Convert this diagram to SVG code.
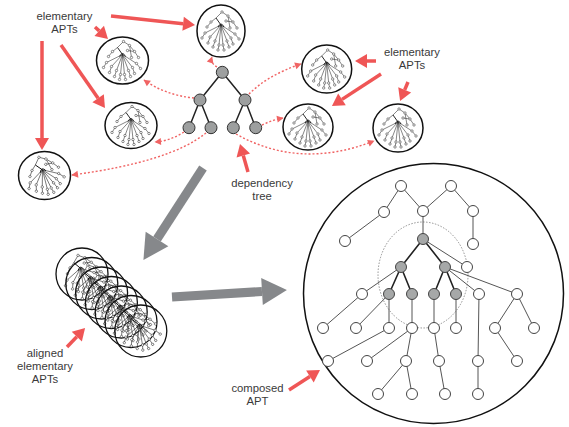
<svg xmlns="http://www.w3.org/2000/svg" xmlns:xlink="http://www.w3.org/1999/xlink" width="569" height="427" viewBox="0 0 569 427">
<style>
.lbl{font-family:"Liberation Sans",Arial,Helvetica,sans-serif;font-size:11.3px;fill:#3a3a3a;text-anchor:middle}
.apt{fill:none;stroke:#111;stroke-width:1.5}
.apt2{fill:none;stroke:#111;stroke-width:1.3}
.ml{stroke:#222;stroke-width:0.55;fill:none}
.mb{stroke:#111;stroke-width:0.9;fill:none}
.mn{fill:#fff;stroke:#222;stroke-width:0.5}
.red{stroke:#ef5656;stroke-width:3.5;fill:none}
.dot{stroke:#f06464;stroke-width:1.4;fill:none;stroke-dasharray:2 2}
.gray{stroke:#86888b;stroke-width:9;fill:none}
.de{stroke:#222;stroke-width:1.5}
.dn{fill:#9d9f9f;stroke:#333;stroke-width:1}
.be{stroke:#555;stroke-width:1}
.bb{stroke:#222;stroke-width:1.6}
.bn{fill:#fff;stroke:#444;stroke-width:1}
.bg{fill:#a6a8a8;stroke:#444;stroke-width:1}
</style>
<defs>
<marker id="rh" markerUnits="userSpaceOnUse" markerWidth="14" markerHeight="16" refX="0" refY="0" viewBox="0 -8 13 16" orient="auto" overflow="visible">
<path d="M0,-7 L12,0 L0,7 z" fill="#ef5656"/>
</marker>
<marker id="dh" markerUnits="userSpaceOnUse" markerWidth="8" markerHeight="8" refX="6" refY="0" viewBox="0 -4 7 8" orient="auto" overflow="visible">
<path d="M0,-3.5 L6.5,0 L0,3.5 z" fill="#f06464"/>
</marker>
<marker id="gh" markerUnits="userSpaceOnUse" markerWidth="26" markerHeight="30" refX="0" refY="0" viewBox="0 -14 25 28" orient="auto" overflow="visible">
<path d="M0,-13 L24,0 L0,13 z" fill="#86888b"/>
</marker>
<g id="mt">
<path class="ml" d="M1,-19 L-5,-13 M1,-19 L7,-15 M7,-15 L12,-9 L16,-3 M7,-15 L9,-3 M-5,-13 L-10,-9 L-14,-4 M0,-6 L-16,2 L-19,7 M0,-6 L-11,6 L-13,12 M0,-6 L-6,10 L-8,16 M0,-6 L-2,14 L-3,19 M0,-6 L2,14 L3,19 M0,-6 L6,10 L8,16 M0,-6 L10,7 L12,13 M0,-6 L14,3 L18,8 M12,-9 L5,-10"/>
<path class="mb" d="M-5,-13 L0,-6 M-3,-4 Q0,-10 3,-4"/>
<g class="mn">
<circle cx="1" cy="-19" r="1.2"/><circle cx="7" cy="-15" r="1.2"/><circle cx="12" cy="-9" r="1.2"/><circle cx="16" cy="-3" r="1.2"/><circle cx="9" cy="-3" r="1.2"/><circle cx="5" cy="-10" r="1.2"/>
<circle cx="-10" cy="-9" r="1.2"/><circle cx="-14" cy="-4" r="1.2"/><circle cx="-16" cy="2" r="1.2"/><circle cx="-19" cy="7" r="1.2"/><circle cx="-11" cy="6" r="1.2"/><circle cx="-13" cy="12" r="1.2"/>
<circle cx="-6" cy="10" r="1.2"/><circle cx="-8" cy="16" r="1.2"/><circle cx="-2" cy="14" r="1.2"/><circle cx="-3" cy="19" r="1.2"/><circle cx="2" cy="14" r="1.2"/><circle cx="3" cy="19" r="1.2"/>
<circle cx="6" cy="10" r="1.2"/><circle cx="8" cy="16" r="1.2"/><circle cx="10" cy="7" r="1.2"/><circle cx="12" cy="13" r="1.2"/><circle cx="14" cy="3" r="1.2"/><circle cx="18" cy="8" r="1.2"/>
</g>
</g>
</defs>
<rect width="569" height="427" fill="#fff"/>

<g id="connectors">
<path class="red" d="M111,16 L183.1,23.7" marker-end="url(#rh)"/>
<path class="red" d="M95,27 L99.2,30.9" marker-end="url(#rh)"/>
<path class="red" d="M61,45 L98.1,98.2" marker-end="url(#rh)"/>
<path class="red" d="M42,41 L42,138" marker-end="url(#rh)"/>
<path class="red" d="M376,61 L367,61" marker-end="url(#rh)"/>
<path class="red" d="M381,74 L342,99.4" marker-end="url(#rh)"/>
<path class="red" d="M408,82 L404.7,89.9" marker-end="url(#rh)"/>
<path class="red" d="M248,172 L243.3,155.5" marker-end="url(#rh)"/>
<path class="red" d="M67,347 L76.8,336.7" marker-end="url(#rh)"/>
<path class="red" d="M289,390 L309.9,376.5" marker-end="url(#rh)"/>
<path class="dot" d="M217,67 Q210,63 212,57" marker-end="url(#dh)"/>
<path class="dot" d="M194,98 Q165,95 144,80" marker-end="url(#dh)"/>
<path class="dot" d="M249,94 Q268,75 301,64" marker-end="url(#dh)"/>
<path class="dot" d="M184,132 Q170,141 155,142" marker-end="url(#dh)"/>
<path class="dot" d="M206,133 Q170,162 72,175" marker-end="url(#dh)"/>
<path class="dot" d="M262,125 Q272,120 283,118" marker-end="url(#dh)"/>
<path class="dot" d="M236,134 Q300,170 374,141" marker-end="url(#dh)"/>
<path class="gray" d="M203,168 L157,239" marker-end="url(#gh)"/>
<path class="gray" d="M172,297 L262,291.5" marker-end="url(#gh)"/>
</g>

<g id="elementary-apts-1"><ellipse class="apt" cx="221" cy="31" rx="24" ry="26"/><use xlink:href="#mt" href="#mt" transform="translate(221,31)"/></g>
<g id="elementary-apts-2"><ellipse class="apt" cx="122.5" cy="60.5" rx="26" ry="23.5"/><use xlink:href="#mt" href="#mt" transform="translate(122.5,60.5)"/></g>
<g id="elementary-apts-3"><ellipse class="apt" cx="131" cy="125.5" rx="26" ry="23"/><use xlink:href="#mt" href="#mt" transform="translate(131,125.5)"/></g>
<g id="elementary-apts-4"><ellipse class="apt" cx="44.5" cy="175.5" rx="26" ry="24"/><use xlink:href="#mt" href="#mt" transform="translate(44.5,175.5) rotate(-20)"/></g>
<g id="elementary-apts-5"><ellipse class="apt" cx="326.7" cy="69" rx="25" ry="24"/><use xlink:href="#mt" href="#mt" transform="translate(326.7,69)"/></g>
<g id="elementary-apts-6"><ellipse class="apt" cx="308" cy="127" rx="25" ry="23"/><use xlink:href="#mt" href="#mt" transform="translate(308,127)"/></g>
<g id="elementary-apts-7"><ellipse class="apt" cx="398" cy="128" rx="25" ry="24"/><use xlink:href="#mt" href="#mt" transform="translate(398,128)"/></g>

<g id="dependency-tree">
<path class="de" d="M222.3,72.3 L200,100 M222.3,72.3 L245,100 M200,100 L189,127.7 M200,100 L211,127.7 M245,100 L233.3,127.7 M245,100 L255.7,127.7"/>
<circle class="dn" cx="222.3" cy="72.3" r="6"/>
<circle class="dn" cx="200" cy="100" r="6"/>
<circle class="dn" cx="245" cy="100" r="6"/>
<circle class="dn" cx="189" cy="127.7" r="6"/>
<circle class="dn" cx="211" cy="127.7" r="6"/>
<circle class="dn" cx="233.3" cy="127.7" r="6"/>
<circle class="dn" cx="255.7" cy="127.7" r="6"/>
</g>

<g id="aligned-apts">
<g><circle class="apt2" cx="82" cy="274" r="26"/><use xlink:href="#mt" href="#mt" transform="translate(82,274) rotate(-15)"/></g>
<g><circle class="apt2" cx="91.8" cy="283.5" r="26"/><use xlink:href="#mt" href="#mt" transform="translate(91.8,283.5) rotate(-15)"/></g>
<g><circle class="apt2" cx="101.6" cy="293" r="26"/><use xlink:href="#mt" href="#mt" transform="translate(101.6,293) rotate(-15)"/></g>
<g><circle class="apt2" cx="111.4" cy="302.5" r="26"/><use xlink:href="#mt" href="#mt" transform="translate(111.4,302.5) rotate(-15)"/></g>
<g><circle class="apt2" cx="121.2" cy="312" r="26"/><use xlink:href="#mt" href="#mt" transform="translate(121.2,312) rotate(-15)"/></g>
<g><circle class="apt2" cx="131" cy="321.5" r="26"/><use xlink:href="#mt" href="#mt" transform="translate(131,321.5) rotate(-15)"/></g>
<g><circle class="apt2" cx="140.8" cy="331" r="26"/><use xlink:href="#mt" href="#mt" transform="translate(140.8,331) rotate(-15)"/></g>
</g>

<g id="composed-apt">
<circle class="apt" cx="433.5" cy="293.5" r="130"/>
<ellipse cx="423" cy="275" rx="45" ry="53" fill="none" stroke="#777" stroke-width="0.8" stroke-dasharray="1.5 1.5"/>
<path class="be" d="M401,186 L384,212 M401,186 L423,211 M451,186 L423,211 M451,186 L473,211 M384,212 L345,241 M473,211 L473,244 M423,211 L423,239 M423,239 L467,267 M401,267 L362,294 M445,267 L479,294 M445,267 L517,294 M362,294 L323,328 M389,294 L356,328 M389,294 L389,328 M412,294 L412,328 M434,294 L434,328 M456,294 L456,328 M517,294 L495,328 M517,294 L534,328 M389,328 L328,361 M412,328 L367,361 M412,328 L406,361 M434,328 L439,361 M479,294 L478,361 M495,328 L517,361 M406,361 L378,394 M406,361 L412,394 M439,361 L445,394 M478,361 L478,394"/>
<path class="bb" d="M423,239 L401,267 M423,239 L445,267 M401,267 L389,294 M401,267 L412,294 M445,267 L434,294 M445,267 L456,294"/>
<g class="bn">
<circle cx="401" cy="186" r="5.5"/><circle cx="451" cy="186" r="5.5"/>
<circle cx="384" cy="212" r="5.5"/><circle cx="423" cy="211" r="5.5"/><circle cx="473" cy="211" r="5.5"/>
<circle cx="345" cy="241" r="5.5"/><circle cx="473" cy="244" r="5.5"/><circle cx="467" cy="267" r="5.5"/>
<circle cx="362" cy="294" r="5.5"/><circle cx="479" cy="294" r="5.5"/><circle cx="517" cy="294" r="5.5"/>
<circle cx="323" cy="328" r="5.5"/><circle cx="356" cy="328" r="5.5"/><circle cx="389" cy="328" r="5.5"/><circle cx="412" cy="328" r="5.5"/><circle cx="434" cy="328" r="5.5"/><circle cx="456" cy="328" r="5.5"/><circle cx="495" cy="328" r="5.5"/><circle cx="534" cy="328" r="5.5"/>
<circle cx="328" cy="361" r="5.5"/><circle cx="367" cy="361" r="5.5"/><circle cx="406" cy="361" r="5.5"/><circle cx="439" cy="361" r="5.5"/><circle cx="478" cy="361" r="5.5"/><circle cx="517" cy="361" r="5.5"/>
<circle cx="378" cy="394" r="5.5"/><circle cx="412" cy="394" r="5.5"/><circle cx="445" cy="394" r="5.5"/><circle cx="478" cy="394" r="5.5"/>
</g>
<g class="bg">
<circle cx="423" cy="239" r="5.5"/><circle cx="401" cy="267" r="5.5"/><circle cx="445" cy="267" r="5.5"/>
<circle cx="389" cy="294" r="5.5"/><circle cx="412" cy="294" r="5.5"/><circle cx="434" cy="294" r="5.5"/><circle cx="456" cy="294" r="5.5"/>
</g>
</g>

<g id="labels">
<text class="lbl" x="64.5" y="19.5">elementary</text>
<text class="lbl" x="64.5" y="32.5">APTs</text>
<text class="lbl" x="412" y="56">elementary</text>
<text class="lbl" x="412" y="69">APTs</text>
<text class="lbl" x="262" y="187">dependency</text>
<text class="lbl" x="262" y="200">tree</text>
<text class="lbl" x="45" y="357">aligned</text>
<text class="lbl" x="45" y="370">elementary</text>
<text class="lbl" x="45" y="383">APTs</text>
<text class="lbl" x="257.5" y="392">composed</text>
<text class="lbl" x="257.5" y="405">APT</text>
</g>
</svg>
